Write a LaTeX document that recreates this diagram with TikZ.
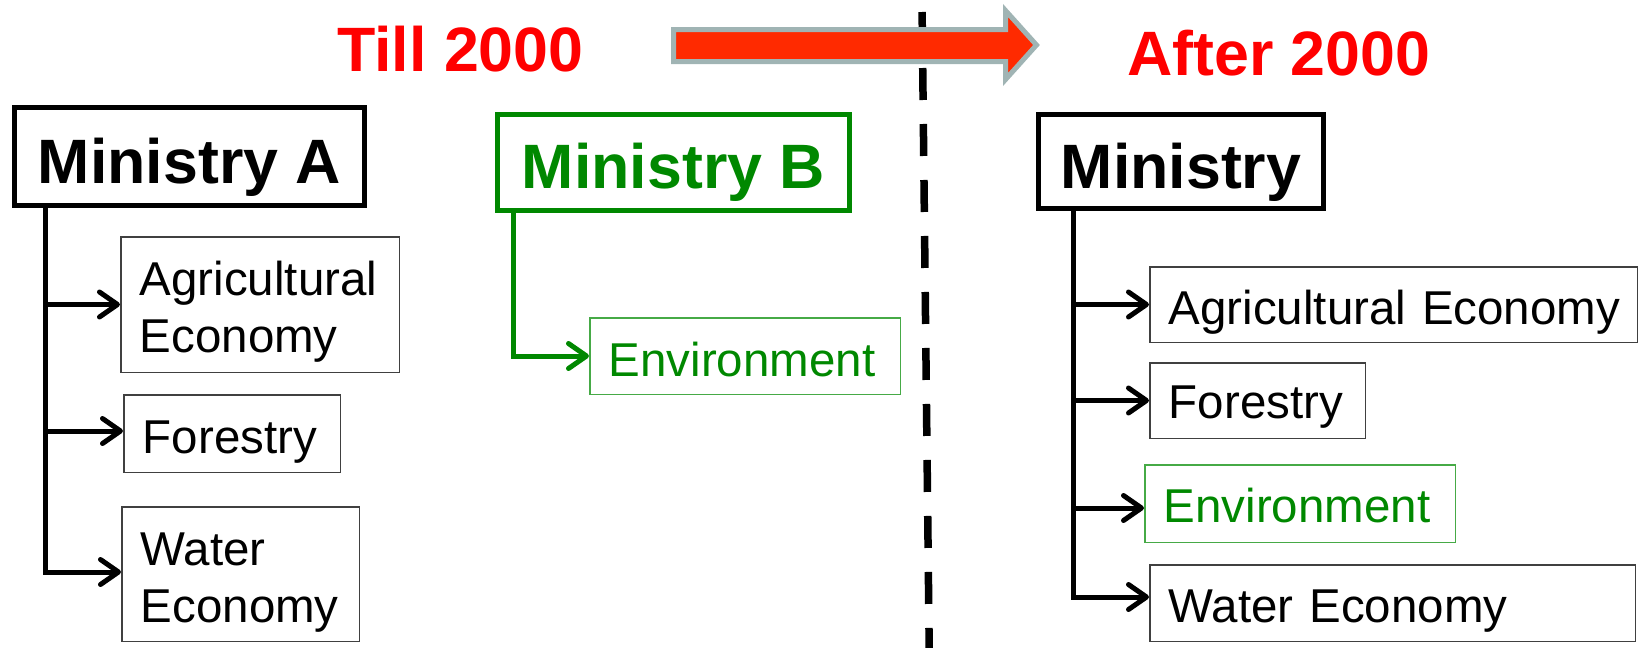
\documentclass[tikz,border=0pt]{standalone}
\usepackage{fontspec}
\setmainfont{Liberation Sans}
\usetikzlibrary{arrows.meta}

\definecolor{minigreen}{RGB}{0,136,0}
\definecolor{envgreen}{RGB}{70,170,70}
\definecolor{subgray}{RGB}{64,64,64}
\definecolor{arrowred}{RGB}{255,42,0}
\definecolor{arrowrim}{RGB}{160,180,180}
\definecolor{titlered}{RGB}{255,0,0}

\tikzset{
  ministry/.style={draw, line width=5pt, inner sep=0pt, anchor=north west,
    font=\fontsize{62.7}{75}\selectfont\bfseries},
  unit/.style={draw=subgray, line width=1.5pt, inner xsep=19pt, inner ysep=0pt,
    align=left, anchor=north west, font=\fontsize{47.5}{57.5}\selectfont},
  envunit/.style={unit, draw=envgreen, text=minigreen},
  title/.style={text=titlered, inner sep=0pt, anchor=base west,
    font=\fontsize{62.7}{75}\selectfont\bfseries},
  link/.style={line width=5pt, -{Straight Barb[length=18pt,width=25pt,round]}},
  divider/.style={line width=7.5pt, dash pattern=on 32pt off 24pt},
  bigarrow/.style={line width=5pt, draw=arrowrim, fill=arrowred}
}

\begin{document}
\begin{tikzpicture}[x=1pt,y=-1pt]
\useasboundingbox (0,0) rectangle (1639,648);

% period divider and timeline arrow
\draw[divider] (922.1,12) -- (929.2,648);
\draw[bigarrow] (673.5,29.5) -- (1005.5,29.5) -- (1005.5,10.5) -- (1036.5,45)
  -- (1005.5,79.5) -- (1005.5,61.5) -- (673.5,61.5) -- cycle;

% titles
\node[title] (till) at (337,71) {Till 2000};
\node[title] (after) at (1127,75) {After 2000};

% --- before 2000: Ministry A
\node[ministry, minimum width=350pt, text height=75.5pt, text depth=22.5pt]
  (minA) at (12,105) {Ministry A};
\node[unit, text width=240.5pt, text height=58.25pt, text depth=77.25pt]
  (agriA) at (120,236) {\mbox{Agricultural}\\\mbox{Economy}};
\node[unit, text width=178.5pt, text height=58.25pt, text depth=19.25pt]
  (forA) at (123,394) {\mbox{Forestry}};
\node[unit, text width=199.5pt, text height=58.25pt, text depth=76.25pt]
  (watA) at (121,506) {\mbox{Water}\\\mbox{Economy}};

\coordinate (ta) at ([xshift=33pt]minA.south west);
\coordinate (forAin) at ([yshift=2.5pt]forA.west);
\coordinate (watAin) at ([yshift=2pt]watA.west);
\draw[link] (ta) |- (watAin);
\draw[link] (ta |- agriA.west) -- (agriA.west);
\draw[link] (ta |- forAin) -- (forAin);

% --- before 2000: Ministry B
\node[ministry, draw=minigreen, text=minigreen, minimum width=352pt,
  text height=73.5pt, text depth=22.5pt] (minB) at (495,112) {Ministry B};
\node[envunit, text width=272.5pt, text height=58.25pt, text depth=18.25pt]
  (envB) at (589,317) {\mbox{Environment}};

\coordinate (tb) at ([xshift=18pt]minB.south west);
\draw[link, minigreen] (tb) |- (envB.west);

% --- after 2000: merged Ministry
\node[ministry, minimum width=285pt, text height=73.5pt, text depth=20.5pt]
  (minR) at (1036,112) {Ministry};
\node[unit, text width=449.5pt, text height=57.25pt, text depth=18.25pt]
  (agriR) at (1149,266) {\mbox{Agricultural Economy}};
\node[unit, text width=177.5pt, text height=55.25pt, text depth=20.25pt]
  (forR) at (1149,362) {\mbox{Forestry}};
\node[envunit, text width=272.5pt, text height=57.25pt, text depth=20.25pt]
  (envR) at (1144,464) {\mbox{Environment}};
\node[unit, text width=447.5pt, text height=57.25pt, text depth=19.25pt]
  (watR) at (1149,564) {\mbox{Water Economy}};

\coordinate (tr) at ([xshift=37pt]minR.south west);
\coordinate (envRin) at ([yshift=-4.5pt]envR.west);
\coordinate (watRin) at ([yshift=6pt]watR.west);
\draw[link] (tr) |- (watRin);
\draw[link] (tr |- agriR.west) -- (agriR.west);
\draw[link] (tr |- forR.west) -- (forR.west);
\draw[link] (tr |- envRin) -- (envRin);
\end{tikzpicture}
\end{document}
